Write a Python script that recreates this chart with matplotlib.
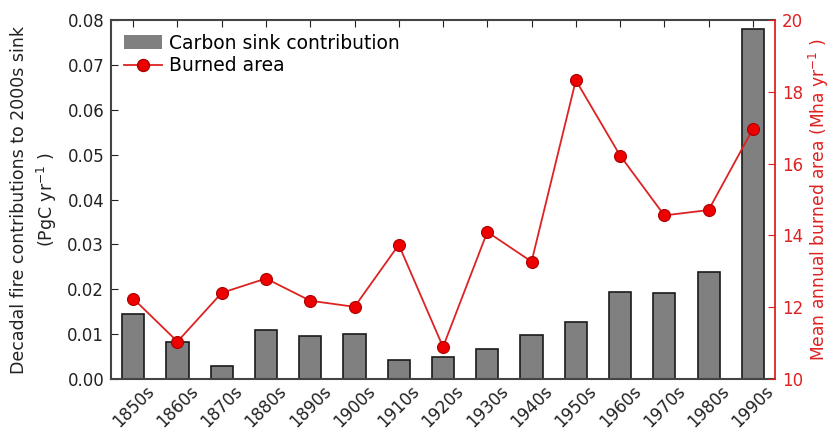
import matplotlib
matplotlib.use("Agg")
import matplotlib.pyplot as plt
from matplotlib.patches import Patch
from matplotlib.lines import Line2D
import numpy as np

decades = ["1850s", "1860s", "1870s", "1880s", "1890s", "1900s", "1910s", "1920s",
           "1930s", "1940s", "1950s", "1960s", "1970s", "1980s", "1990s"]
sink_contribution = [0.0144, 0.0083, 0.0029, 0.0109, 0.0095, 0.0101, 0.0042, 0.0048,
                     0.0067, 0.0098, 0.0127, 0.0194, 0.0192, 0.0239, 0.0780]
burned_area = [12.24, 11.04, 12.40, 12.80, 12.18, 12.01, 13.74, 10.89,
               14.10, 13.27, 18.33, 16.23, 14.56, 14.71, 16.97]

plt.rcParams['font.family'] = ['DejaVu Sans']
fig = plt.figure(figsize=(8.32, 4.34), dpi=100)
ax = fig.add_axes([0.1335, 0.127, 0.798, 0.826])
x = np.arange(len(decades))
ax.bar(x, sink_contribution, width=0.5, color='#808080', edgecolor='#1a1a1a', linewidth=1.2, zorder=2)
ax.set_xlim(-0.5, len(decades) - 0.5)
ax.set_ylim(0, 0.08)
ax.set_yticks(np.arange(0, 0.081, 0.01))
ax.set_yticklabels([f"{v:.2f}" for v in np.arange(0, 0.081, 0.01)])
ax.set_xticks(x)
ax.set_xticklabels(decades, rotation=45, ha='center')
ax.tick_params(axis='both', direction='in', length=5, labelsize=12, colors='#222222', pad=5)
ax.tick_params(axis='x', top=True, pad=2)
for s in ['left', 'bottom', 'top']:
    ax.spines[s].set_color('#444444')
    ax.spines[s].set_linewidth(1.5)
ax.spines['right'].set_visible(False)
ax.set_ylabel("Decadal fire contributions to 2000s sink\n(PgC yr$^{-1}$ )", fontsize=12.5,
              color='#222222', labelpad=6, linespacing=1.4)

ax2 = ax.twinx()
ax2.plot(x, burned_area, color='#dd2222', linewidth=1.3, marker='o', markersize=8.6,
         markerfacecolor='#ee0000', markeredgecolor='#aa0000', markeredgewidth=0.8, zorder=3)
ax2.set_ylim(10, 20)
ax2.set_yticks(np.arange(10, 21, 2))
ax2.tick_params(axis='y', direction='in', length=5, labelsize=12, colors='#dd2222', pad=5)
for s in ['left', 'bottom', 'top']:
    ax2.spines[s].set_visible(False)
ax2.spines['right'].set_color('#dd2222')
ax2.spines['right'].set_linewidth(1.3)
ax2.set_ylabel("Mean annual burned area (Mha yr$^{-1}$ )", fontsize=12.3, color='#dd2222', labelpad=3)

handles = [Patch(facecolor='#808080', edgecolor='none', label='Carbon sink contribution'),
           Line2D([0], [0], color='#dd2222', linewidth=1.3, marker='o', markersize=8.6,
                  markerfacecolor='#ee0000', markeredgecolor='#aa0000', label='Burned area')]
ax2.legend(handles=handles, loc='upper left', frameon=False, fontsize=13.5,
           handlelength=2.0, borderaxespad=0.3, handletextpad=0.4, labelspacing=0.2)

fig.savefig("out.png", dpi=100)
